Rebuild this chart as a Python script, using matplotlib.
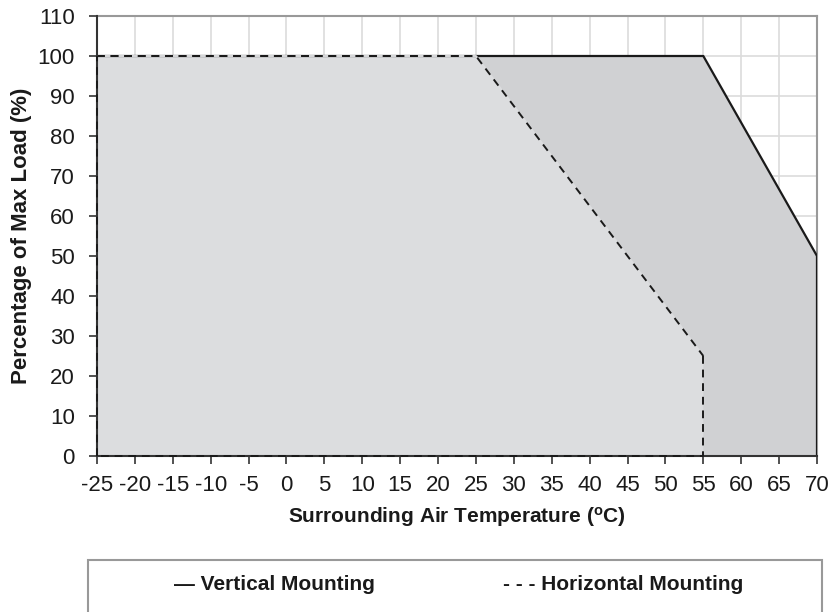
import matplotlib
matplotlib.use("Agg")
import matplotlib.pyplot as plt
from matplotlib.patches import Polygon, Rectangle

plt.rcParams['font.family'] = ['Liberation Sans', 'DejaVu Sans']

# Data
vert_temp = [-25, 55, 70, 70]
vert_load = [100, 100, 50, 0]
horiz_temp = [-25, 25, 55, 55]
horiz_load = [100, 100, 25, 0]
x_ticks = list(range(-25, 71, 5))
y_ticks = list(range(0, 111, 10))

fig = plt.figure(figsize=(8.31, 6.12), dpi=100)
ax = fig.add_axes([97/831, 1-456/612, 720/831, 440/612])
ax.set_xlim(-25, 70)
ax.set_ylim(0, 110)

# Grid
ax.set_xticks(x_ticks)
ax.set_yticks(y_ticks)
ax.grid(True, color='#dcdcdc', linewidth=1.2, zorder=0)
ax.set_axisbelow(True)

# Vertical region
vx = [vert_temp[0]] + vert_temp + [vert_temp[0]]
vy = [0] + vert_load + [0]
ax.add_patch(Polygon(list(zip(vx, vy)), closed=True, facecolor='#d0d1d3', edgecolor='none', zorder=1))
ax.plot(vert_temp, vert_load, color='#1a1a1a', linewidth=1.6, zorder=3)

# Horizontal region
hx = [horiz_temp[0]] + horiz_temp + [horiz_temp[0]]
hy = [0] + horiz_load + [0]
ax.add_patch(Polygon(list(zip(hx, hy)), closed=True, facecolor='#dcdddf', edgecolor='none', zorder=2))
ax.plot(hx[1:4], hy[1:4], color='#1a1a1a', linewidth=1.4, linestyle=(0, (4, 3)),
        gapcolor='#dcdddf', zorder=4, clip_on=False)
ax.plot(hx[3:], hy[3:], color='#1a1a1a', linewidth=1.4, linestyle=(0, (4, 3)), zorder=6, clip_on=False)
ax.plot([hx[0], hx[1]], [hy[0], hy[1]], color='#1a1a1a', linewidth=1.4, linestyle=(0, (4, 3)),
        zorder=6, clip_on=False)

# Spines
for s in ['top', 'right']:
    ax.spines[s].set_color('#999999')
    ax.spines[s].set_linewidth(1.5)
for s in ['left', 'bottom']:
    ax.spines[s].set_color('#333333')
    ax.spines[s].set_linewidth(1.5)
    ax.spines[s].set_zorder(5)

ax.tick_params(axis='both', direction='out', length=6, width=1.2, color='#333333',
               labelsize=16, labelcolor='#1a1a1a')
ax.tick_params(axis='x', pad=8)
ax.tick_params(axis='y', pad=10)
ax.set_xticklabels([str(t) for t in x_ticks])
ax.set_yticklabels([str(t) for t in y_ticks])

ax.set_xlabel('Surrounding Air Temperature ($\\mathregular{^o}$C)', fontsize=15,
              fontweight='bold', color='#1a1a1a', labelpad=6)
ax.set_ylabel('Percentage of Max Load (%)', fontsize=16, fontweight='bold',
              color='#1a1a1a', labelpad=4)

# Legend box (clipped at bottom)
fig.patches.append(Rectangle((88/831, -0.05), (822-88)/831, 0.05 + (612-560)/612,
                             transform=fig.transFigure, facecolor='white',
                             edgecolor='#999999', linewidth=1.5))
leg_fam = ['Liberation Sans Narrow', 'Liberation Sans', 'DejaVu Sans']
fig.text(174/831, 1-584/612, '— Vertical Mounting', fontsize=15, fontweight='bold',
         family=leg_fam, color='#1a1a1a', va='center', ha='left')
fig.text(503/831, 1-584/612, '- - - Horizontal Mounting', fontsize=15, fontweight='bold',
         family=leg_fam, color='#1a1a1a', va='center', ha='left')

fig.savefig('out.png', dpi=100)
